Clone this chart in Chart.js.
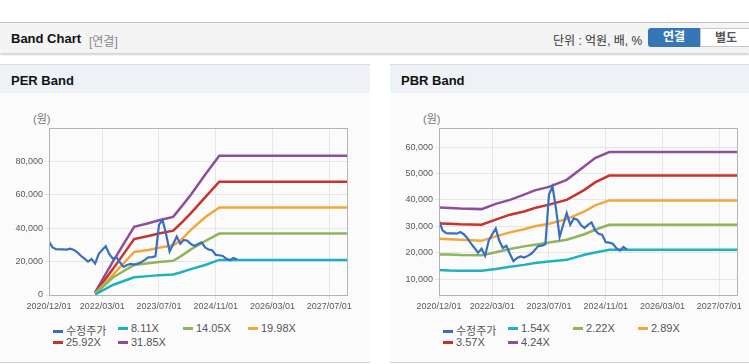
<!DOCTYPE html>
<html lang="ko">
<head>
<meta charset="utf-8">
<script src="https://cdn.jsdelivr.net/npm/chart.js@4"></script>
<style>
  body { margin: 0; width: 749px; height: 364px; overflow: hidden; background: #fff;
         font-family: "Liberation Sans", "Noto Sans CJK KR", sans-serif; position: relative; }
  .bar { position: absolute; left: 0; top: 22px; width: 749px; height: 30px; background: #f4f4f4;
         border-top: 1px solid #c4c4c4; box-shadow: 0 2px 2px rgba(0,0,0,0.18); }
  .bar .title { position: absolute; left: 11px; top: 8px; font-size: 13px; font-weight: bold; color: #111; }
  .bar .sub { position: absolute; left: 89px; top: 9px; font-size: 12px; color: #888; }
  .bar .unit { position: absolute; left: 553px; top: 8px; font-size: 12px; color: #333; }
  .btn { position: absolute; top: 5px; height: 19px; line-height: 19px; text-align: center;
         font-size: 12px; font-weight: bold; box-sizing: border-box; }
  .btn.on { left: 648px; width: 52px; background: #3776b6; color: #fff; border-radius: 3px 0 0 3px; }
  .btn.off { left: 700px; width: 52px; background: #fff; color: #555; border: 1px solid #c8c8c8; }
  .panel { position: absolute; top: 64px; height: 298px; background: #fbfbfb; border-bottom: 1px solid #cfcfcf; }
  .panel .head { height: 28px; background: #eef1f6; border-top: 1px solid #dcdcdc; }
  .panel .head span { position: absolute; left: 11px; top: 9px; font-size: 13px; font-weight: bold; color: #111; }
  .unitlbl { position: absolute; left: 33px; top: 46px; font-size: 11px; color: #777; }
  .box { position: absolute; top: 36px; left: 0; height: 220px; }
  .legend { position: absolute; left: 53px; top: 258px; font-size: 11px; color: #555; }
  .legend div { position: absolute; white-space: nowrap; }
  .legend i { display: inline-block; width: 10px; height: 3px; margin-right: 3px; vertical-align: middle; position: relative; top: -1px; }
</style>
</head>
<body>
<div class="bar">
  <span class="title">Band Chart</span><span class="sub">[연결]</span>
  <span class="unit">단위 : 억원, 배, %</span>
  <div class="btn on">연결</div><div class="btn off">별도</div>
</div>

<div class="panel" style="left:0;width:370px">
  <div class="head"><span>PER Band</span></div>
  <span class="unitlbl">(원)</span>
  <div class="box" style="width:370px"><canvas id="per"></canvas></div>
  <div class="legend" id="perLegend"></div>
</div>

<div class="panel" style="left:390px;width:359px">
  <div class="head"><span>PBR Band</span></div>
  <span class="unitlbl">(원)</span>
  <div class="box" style="width:359px"><canvas id="pbr"></canvas></div>
  <div class="legend" id="pbrLegend"></div>
</div>

<script>
// x = months since 2020/12/01
const tickMonths = [0, 15, 31, 47, 63, 79];
const tickLabels = ['2020/12/01', '2022/03/01', '2023/07/01', '2024/11/01', '2026/03/01', '2027/07/01'];

const price = [32000, 28500, 27400, 27300, 27300, 27200, 27800, 27000, 25500, 23500,
  21800, 20000, 21500, 18800, 24500, 27000, 29200, 24500, 21800, 22600,
  19500, 16800, 18000, 18600, 18200, 18800, 19600, 21000, 22500, 22700,
  23200, 42000, 45000, 36500, 26000, 30500, 35000, 30600, 33000, 32500,
  30500, 29300, 30500, 31500, 28500, 27200, 26800, 24000, 23800, 23400,
  21700, 20800, 22200, 21200];

const perMonths = [13, 18, 24, 28, 31, 35, 37, 40, 44, 48, 84];
const per811 = [300, 6000, 10600, 11300, 11900, 12300, 13500, 15500, 18000, 21000, 21000];
const per1405 = [600, 10500, 18000, 19000, 19800, 20500, 23000, 27300, 32300, 36800, 36800];
const per1998 = [900, 12000, 25800, 27000, 28300, 29800, 32500, 39000, 46500, 52400, 52400];
const per2592 = [1200, 15500, 33500, 35300, 36800, 38500, 42500, 49000, 58500, 67800, 67800];
const per3185 = [1500, 20000, 40800, 43000, 44800, 46800, 52000, 60000, 72000, 83400, 83400];
const perTicks = [0, 20000, 40000, 60000, 80000];

const pbrMonths = [0, 3, 6, 12, 16, 20, 24, 27, 31, 36, 41, 44, 48, 84];
const pbr154 = [13500, 13300, 13200, 13200, 13800, 14700, 15400, 16100, 16700, 17300, 19200, 20100, 21100, 21100];
const pbr222 = [19350, 19300, 19100, 19000, 20200, 21400, 22400, 23000, 23900, 24900, 27000, 28700, 30600, 30600];
const pbr289 = [25300, 25100, 24900, 24500, 26200, 27700, 28900, 30000, 31000, 32700, 35600, 37900, 39800, 39800];
const pbr357 = [31100, 31000, 30800, 30600, 32500, 34400, 35600, 36900, 38200, 40000, 43800, 46600, 49200, 49200];
const pbr424 = [37150, 36900, 36700, 36500, 38500, 40000, 42000, 43600, 44900, 47600, 52700, 55800, 58100, 58100];
const pbrTicks = [10000, 20000, 30000, 40000, 50000, 60000];

const colors = ['#3a6fc0', '#1fb0c4', '#8fb45a', '#f2a73b', '#c8332d', '#8c4f9c'];

const frame = {
  id: 'frame',
  afterDraw(chart) {
    const a = chart.chartArea, c = chart.ctx;
    c.save();
    c.strokeStyle = '#b4b4b4';
    c.lineWidth = 1;
    c.strokeRect(Math.round(a.left) + 0.5, Math.round(a.top) + 0.5, Math.round(a.right - a.left), Math.round(a.bottom - a.top));
    c.restore();
  }
};

function pts(xs, ys) { return ys.map((v, i) => ({ x: xs[i], y: v })); }

function makeChart(id, legendId, bands, months, names, yMin, yMax, yTicks, rightPad) {
  const datasets = [{
    label: '수정주가',
    data: price.map((v, i) => ({ x: i, y: v })),
    borderColor: colors[0], borderWidth: 2.2
  }];
  bands.forEach((b, i) => datasets.push({
    label: names[i], data: pts(months, b), borderColor: colors[i + 1], borderWidth: 2.5
  }));

  new Chart(document.getElementById(id), {
    type: 'line',
    data: { datasets },
    plugins: [frame],
    options: {
      responsive: true, maintainAspectRatio: false, animation: false,
      layout: { padding: { top: 28, right: rightPad, left: 0, bottom: 0 } },
      elements: { point: { radius: 0 }, line: { tension: 0 } },
      plugins: { legend: { display: false }, tooltip: { enabled: false } },
      scales: {
        x: {
          type: 'linear', min: 0, max: 84,
          afterBuildTicks: s => { s.ticks = tickMonths.map(v => ({ value: v })); },
          afterFit: s => { s.height = 25; },
          grid: { color: '#e6e6e6', tickLength: 4 },
          border: { color: '#b4b4b4' },
          ticks: {
            autoSkip: false, maxRotation: 0, padding: 2, color: '#5a5a5a',
            font: { family: 'Liberation Sans', size: 9 },
            callback: (v) => tickLabels[tickMonths.indexOf(v)]
          }
        },
        y: {
          min: yMin, max: yMax,
          afterBuildTicks: s => { s.ticks = yTicks.map(v => ({ value: v })); },
          afterFit: s => { s.width = 49; },
          grid: { color: '#e6e6e6', tickLength: 4 },
          border: { color: '#b4b4b4' },
          ticks: {
            padding: 2, color: '#5a5a5a',
            font: { family: 'Liberation Sans', size: 9 },
            callback: v => v.toLocaleString('en-US')
          }
        }
      }
    }
  });

  const leg = document.getElementById(legendId);
  datasets.forEach((d, i) => {
    const el = document.createElement('div');
    el.style.left = (i % 4) * 65 + 'px';
    el.style.top = Math.floor(i / 4) * 14 + 'px';
    el.innerHTML = '<i style="background:' + d.borderColor + '"></i>' + d.label;
    leg.appendChild(el);
  });
}

makeChart('per', 'perLegend', [per811, per1405, per1998, per2592, per3185], perMonths,
  ['8.11X', '14.05X', '19.98X', '25.92X', '31.85X'], 0, 100000, perTicks, 23);
makeChart('pbr', 'pbrLegend', [pbr154, pbr222, pbr289, pbr357, pbr424], pbrMonths,
  ['1.54X', '2.22X', '2.89X', '3.57X', '4.24X'], 4000, 67200, pbrTicks, 12);
</script>
</body>
</html>
